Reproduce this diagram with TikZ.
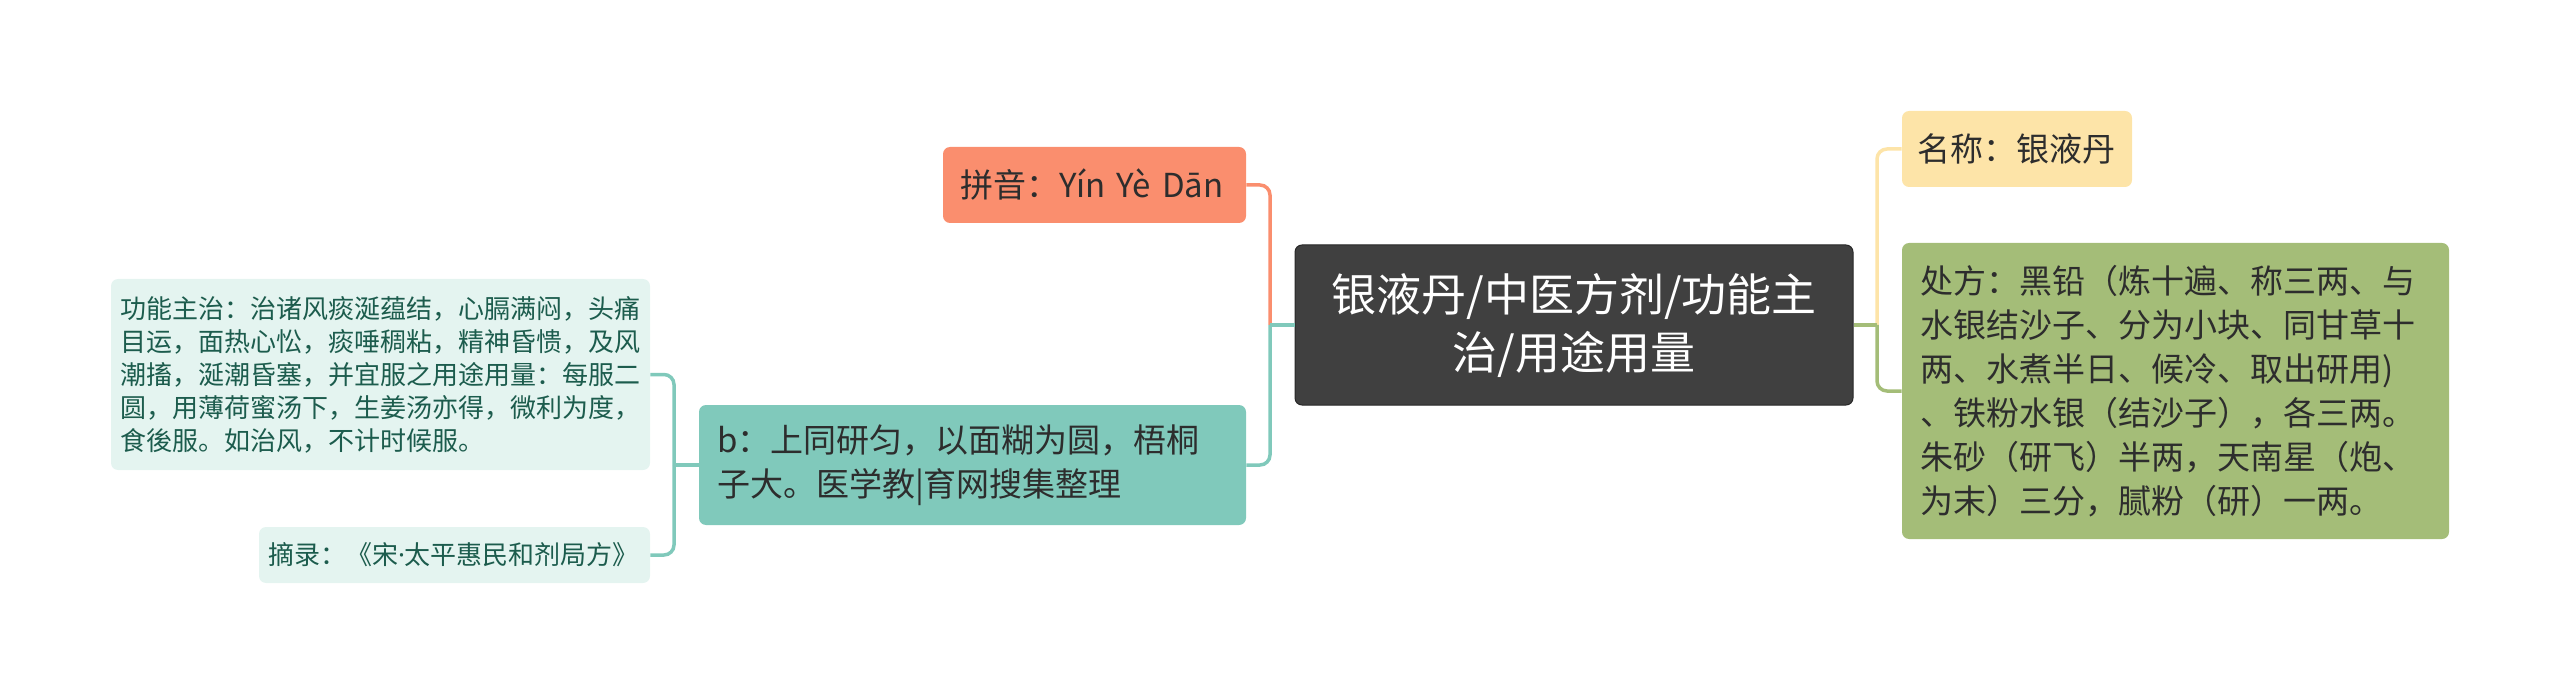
\documentclass[tikz,border=0pt]{standalone}
\usepackage{fontspec}
\newfontfamily\cjk{Noto Sans CJK SC}
\newfontfamily\latinfont{Noto Sans}

\newlength{\du}
\setlength{\du}{0.5pt}

\tikzset{
  topicbox/.style={rounded corners=7\du, inner ysep=0pt, text=inktext},
  centralbox/.style={topicbox, fill=rootgray, draw=rootedge, line width=1\du, text=white, align=center, font={\cjk\fontsize{22.5pt}{29pt}\selectfont}},
  mainbox/.style={topicbox, align=left, font={\cjk\fontsize{16.5pt}{22pt}\selectfont}},
  smallbox/.style={topicbox, fill=palemint, text=notegreen, align=left, font={\cjk\fontsize{13pt}{16.5pt}\selectfont}},
  branchline/.style={line width=3.5\du, rounded corners=10\du},
}

\begin{document}
\begin{tikzpicture}
\pgftransformxscale{1.000000}
\pgftransformyscale{-1.000000}
\definecolor{rootgray}{rgb}{0.250980, 0.250980, 0.250980}
\definecolor{rootedge}{rgb}{0.156863, 0.156863, 0.156863}
\definecolor{inktext}{rgb}{0.176471, 0.176471, 0.176471}
\definecolor{branchsalmon}{rgb}{0.980392, 0.556863, 0.431373}
\definecolor{branchteal}{rgb}{0.501961, 0.788235, 0.733333}
\definecolor{palemint}{rgb}{0.894118, 0.956863, 0.941176}
\definecolor{notegreen}{rgb}{0.109804, 0.360784, 0.301961}
\definecolor{branchcream}{rgb}{0.992157, 0.894118, 0.658824}
\definecolor{brancholive}{rgb}{0.643137, 0.741176, 0.470588}

\useasboundingbox (0,0) rectangle (2560\du,695\du);

\node[centralbox, text width=500\du, inner xsep=29\du, minimum height=160\du] (root) at (1574\du,325\du) {银液丹/中医方剂/功能主\\治/用途用量};

\node[mainbox, fill=branchsalmon, text width=269\du, inner xsep=17\du, minimum height=76\du] (pinyin) at (1094.5\du,185\du) {拼音：Yín Yè Dān};
\node[mainbox, fill=branchteal, text width=511\du, inner xsep=18\du, minimum height=120\du] (method) at (972.5\du,465\du) {b：上同研匀，以面糊为圆，梧桐\\子大。医学教|育网搜集整理};
\node[smallbox, text width=521\du, inner xsep=9\du, minimum height=191\du] (usage) at (380.5\du,374.5\du) {功能主治：治诸风痰涎蕴结，心膈满闷，头痛\\目运，面热心忪，痰唾稠粘，精神昏愦，及风\\潮搐，涎潮昏塞，并宜服之用途用量：每服二\\圆，用薄荷蜜汤下，生姜汤亦得，微利为度，\\食後服。如治风，不计时候服。};
\node[smallbox, text width=373\du, inner xsep=9\du, minimum height=56\du] (source) at (454.5\du,555\du) {摘录：《宋{\latinfont ·}太平惠民和剂局方》};

\node[mainbox, fill=branchcream, text width=200\du, inner xsep=15\du, minimum height=76\du] (name) at (2017\du,149\du) {名称：银液丹};
\node[mainbox, fill=brancholive, text width=511\du, inner xsep=18\du, minimum height=296\du] (recipe) at (2175.5\du,391\du) {处方：黑铅（炼十遍、称三两、与\\水银结沙子、分为小块、同甘草十\\两、水煮半日、候冷、取出研用)\\、铁粉水银（结沙子），各三两。\\朱砂（研飞）半两，天南星（炮、\\为末）三分，腻粉（研）一两。};

% junctions
\coordinate (ljunc) at (1270\du,325\du);
\coordinate (rjunc) at (1877\du,325\du);
\coordinate (mjunc) at (674\du,465\du);

\draw[branchline, draw=branchsalmon] (pinyin.east) -| (ljunc);
\draw[branchline, draw=branchteal] (method.east) -| (ljunc);
\draw[branchline, draw=branchteal] (ljunc) -- (root.west);

\draw[branchline, draw=branchteal] (usage.east) -| (mjunc);
\draw[branchline, draw=branchteal] (source.east) -| (mjunc);
\draw[branchline, draw=branchteal] (mjunc) -- (method.west);

\draw[branchline, draw=branchcream] (name.west) -| (rjunc);
\draw[branchline, draw=brancholive] (recipe.west) -| (rjunc);
\draw[branchline, draw=brancholive] (rjunc) -- (root.east);

\end{tikzpicture}
\end{document}
